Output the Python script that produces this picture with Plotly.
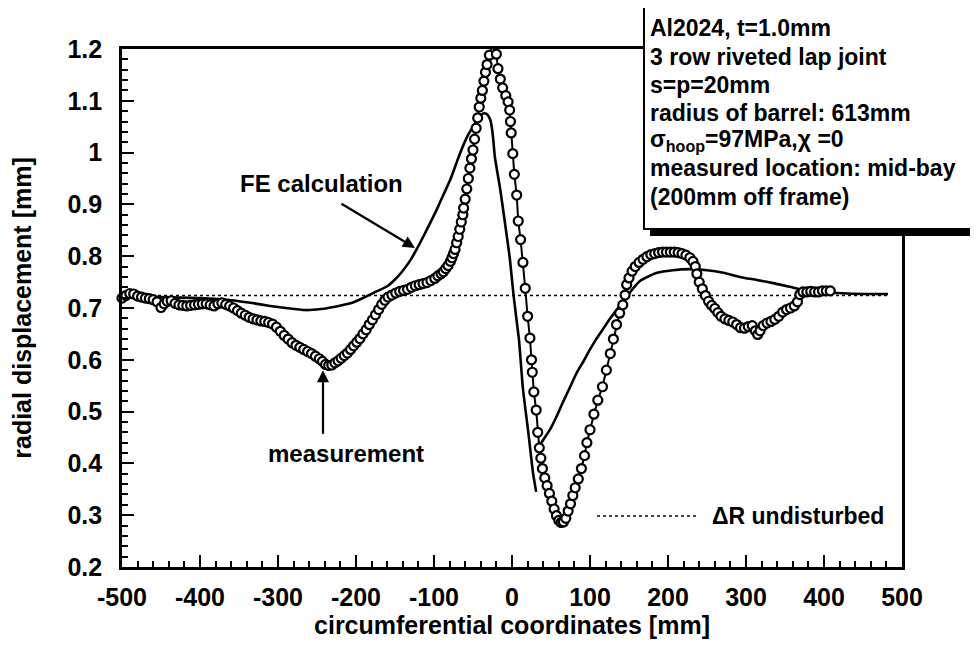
import plotly.graph_objects as go

# ---------------- data ----------------
meas_x = [-500, -495, -490, -485, -480, -475, -470, -465, -460, -455, -450, -446, -442, -437, -432,
          -427, -422, -417, -412, -407, -402, -397, -392, -387, -382, -377, -372, -367, -362, -357,
          -352, -347, -342, -337, -332, -327, -322, -317, -312, -307, -302, -297, -292, -287, -282,
          -277, -272, -267, -262, -257, -252, -247, -243, -239, -235, -231, -227, -223, -219, -215,
          -211, -207, -203, -199, -195, -191, -187, -183, -179, -175, -171, -167, -163, -159, -154,
          -149, -144, -139, -134, -129, -124, -119, -114, -109, -104, -99, -95, -91, -88, -85,
          -82, -79, -77, -75, -73, -71, -69, -67, -65, -63, -62, -60, -58, -56, -54,
          -52, -50, -48, -46, -44, -42, -40, -38, -36, -34, -32, -29, -25, -20, -18,
          -15, -12, -8, -5, -3, -2, -1, 1, 3, 6, 8, 11, 14, 17, 20,
          23, 25, 26, 28, 31, 33, 35, 37, 39, 42, 45, 48, 51, 54, 57,
          60, 63, 66, 69, 72, 75, 78, 81, 85, 89, 93, 96, 100, 105, 110,
          116, 121, 126, 130, 134, 138, 142, 145, 147, 150, 154, 158, 163, 168, 173,
          178, 183, 188, 193, 198, 203, 208, 213, 218, 223, 228, 232, 235, 237, 240,
          244, 248, 252, 256, 260, 264, 268, 273, 278, 283, 288, 293, 298, 303, 308,
          312, 315, 318, 322, 327, 332, 337, 342, 347, 352, 357, 362, 366, 369, 373,
          378, 383, 388, 393, 398, 403, 408]
meas_y = [0.719, 0.724, 0.728, 0.727, 0.723, 0.721, 0.719, 0.718, 0.716, 0.712, 0.701, 0.708, 0.713, 0.714, 0.709,
          0.706, 0.705, 0.704, 0.705, 0.706, 0.707, 0.708, 0.708, 0.706, 0.704, 0.708, 0.710, 0.707, 0.704, 0.700,
          0.695, 0.690, 0.686, 0.682, 0.679, 0.677, 0.675, 0.674, 0.672, 0.669, 0.663, 0.655, 0.647, 0.640, 0.633,
          0.628, 0.624, 0.620, 0.616, 0.612, 0.607, 0.602, 0.597, 0.591, 0.589, 0.590, 0.594, 0.598, 0.603, 0.608,
          0.613, 0.620, 0.627, 0.634, 0.641, 0.650, 0.658, 0.668, 0.677, 0.687, 0.697, 0.707, 0.715, 0.721, 0.725,
          0.729, 0.732, 0.734, 0.736, 0.740, 0.743, 0.745, 0.747, 0.749, 0.753, 0.757, 0.762, 0.766, 0.770, 0.776,
          0.782, 0.790, 0.797, 0.805, 0.813, 0.826, 0.838, 0.852, 0.866, 0.880, 0.893, 0.910, 0.930, 0.950, 0.970,
          0.988, 1.005, 1.026, 1.047, 1.067, 1.088, 1.105, 1.120, 1.138, 1.155, 1.170, 1.188, 1.207, 1.190, 1.162,
          1.142, 1.125, 1.110, 1.098, 1.082, 1.060, 1.038, 0.998, 0.958, 0.918, 0.868, 0.832, 0.788, 0.738, 0.684,
          0.642, 0.600, 0.576, 0.538, 0.503, 0.460, 0.430, 0.410, 0.390, 0.372, 0.357, 0.342, 0.327, 0.312, 0.299,
          0.290, 0.286, 0.287, 0.294, 0.308, 0.322, 0.338, 0.353, 0.370, 0.390, 0.415, 0.440, 0.465, 0.495, 0.522,
          0.548, 0.580, 0.612, 0.640, 0.668, 0.690, 0.706, 0.725, 0.745, 0.758, 0.771, 0.780, 0.788, 0.794, 0.799,
          0.803, 0.805, 0.807, 0.808, 0.808, 0.808, 0.808, 0.807, 0.805, 0.802, 0.797, 0.790, 0.780, 0.766, 0.750,
          0.737, 0.724, 0.713, 0.705, 0.699, 0.691, 0.684, 0.679, 0.676, 0.673, 0.668, 0.662, 0.661, 0.664, 0.666,
          0.656, 0.649, 0.656, 0.666, 0.671, 0.674, 0.678, 0.684, 0.692, 0.697, 0.700, 0.704, 0.712, 0.726, 0.731,
          0.731, 0.732, 0.731, 0.731, 0.733, 0.733, 0.733]

fe_left_x = [-500, -450, -400, -360, -335, -310, -290, -265, -245, -225, -205, -190, -175, -160, -150,
             -140, -130, -122, -113, -105, -98, -92, -85, -78, -70, -63, -56, -50, -45, -40,
             -36, -32, -28, -26, -24, -22, -15, -9, -3, 2, 6, 9, 14, 21, 27, 31]
fe_left_y = [0.722, 0.721, 0.719, 0.715, 0.710, 0.704, 0.700, 0.696, 0.698, 0.703, 0.710, 0.720, 0.731, 0.742, 0.755,
             0.772, 0.793, 0.814, 0.840, 0.864, 0.885, 0.905, 0.928, 0.952, 0.985, 1.012, 1.035, 1.050, 1.062, 1.072,
             1.076, 1.074, 1.064, 1.050, 1.025, 0.992, 0.928, 0.864, 0.798, 0.725, 0.675, 0.638, 0.545, 0.459, 0.381, 0.345]

fe_right_x = [36, 42, 49, 57, 65, 74, 83, 92, 100, 108, 117, 126, 135, 147, 164,
              186, 206, 228, 250, 271, 292, 314, 335, 356, 373, 400, 430, 460, 482]
fe_right_y = [0.436, 0.450, 0.466, 0.490, 0.517, 0.546, 0.575, 0.598, 0.620, 0.640, 0.660, 0.680, 0.698, 0.722, 0.752,
              0.768, 0.773, 0.775, 0.773, 0.768, 0.760, 0.754, 0.748, 0.741, 0.735, 0.731, 0.728, 0.727, 0.727]

undisturbed_x = [-500, 482]
undisturbed_y = [0.724, 0.724]

x_tick_vals = [-500, -400, -300, -200, -100, 0, 100, 200, 300, 400, 500]
x_tick_text = ["-500", "-400", "-300", "-200", "-100", "0", "100", "200", "300", "400", "500"]
y_tick_vals = [0.2, 0.3, 0.4, 0.5, 0.6, 0.7, 0.8, 0.9, 1.0, 1.1, 1.2]
y_tick_text = ["0.2", "0.3", "0.4", "0.5", "0.6", "0.7", "0.8", "0.9", "1", "1.1", "1.2"]

info_lines = ["Al2024, t=1.0mm",
              "3 row riveted lap joint",
              "s=p=20mm",
              "radius of barrel: 613mm",
              "σ<sub>hoop</sub>=97MPa,χ =0",
              "measured location: mid-bay",
              "(200mm off frame)"]

FONT = "Liberation Sans, Arial, Helvetica, sans-serif"

fig = go.Figure()

fig.add_trace(go.Scatter(x=undisturbed_x, y=undisturbed_y, mode="lines",
                         line=dict(color="black", width=1.6, dash="dot"),
                         showlegend=False, hoverinfo="skip"))
fig.add_trace(go.Scatter(x=fe_left_x, y=fe_left_y, mode="lines",
                         line=dict(color="black", width=2.6, shape="spline", smoothing=0.6),
                         showlegend=False))
fig.add_trace(go.Scatter(x=fe_right_x, y=fe_right_y, mode="lines",
                         line=dict(color="black", width=2.6, shape="spline", smoothing=0.6),
                         showlegend=False))
fig.add_trace(go.Scatter(x=meas_x, y=meas_y, mode="lines+markers",
                         line=dict(color="black", width=2),
                         marker=dict(symbol="circle", size=9, color="white",
                                     line=dict(color="black", width=2.2)),
                         cliponaxis=False, showlegend=False))

shapes = []
# info box shadow and box
shapes.append(dict(type="rect", xref="paper", yref="paper", x0=0.677, x1=1.10, y0=0.639, y1=1.071,
                   fillcolor="black", line=dict(width=0), layer="above"))
shapes.append(dict(type="rect", xref="paper", yref="paper", x0=0.6692, x1=1.0936, y0=0.6525, y1=1.0811,
                   fillcolor="white", line=dict(color="black", width=2), layer="above"))
# legend sample for ΔR undisturbed
shapes.append(dict(type="line", xref="paper", yref="paper", x0=0.609, x1=0.737, y0=0.0985, y1=0.0985,
                   line=dict(color="black", width=1.6, dash="dot"), layer="above"))

annotations = []
line_y = [1.0405, 0.9846, 0.9305, 0.8764, 0.8243, 0.7703, 0.7143]
for txt, yy in zip(info_lines, line_y):
    annotations.append(dict(text=txt, xref="paper", yref="paper", x=0.674, y=yy,
                            xanchor="left", yanchor="middle", showarrow=False,
                            font=dict(family=FONT, size=23, color="black", weight="bold")))

annotations.append(dict(text="ΔR undisturbed", xref="paper", yref="paper", x=0.754, y=0.0985,
                        xanchor="left", yanchor="middle", showarrow=False,
                        font=dict(family=FONT, size=23, color="black", weight="bold")))

annotations.append(dict(text="FE calculation", xref="paper", yref="paper", x=0.256, y=0.741,
                        xanchor="center", yanchor="middle", showarrow=False,
                        font=dict(family=FONT, size=24, color="black", weight="bold")))
annotations.append(dict(text="", x=-124.4, y=0.816, xref="x", yref="y", ax=-75, ay=-45,
                        showarrow=True, arrowhead=2, arrowsize=1.1, arrowwidth=2.2, arrowcolor="black"))

annotations.append(dict(text="measurement", xref="paper", yref="paper", x=0.287, y=0.220,
                        xanchor="center", yanchor="middle", showarrow=False,
                        font=dict(family=FONT, size=24, color="black", weight="bold")))
annotations.append(dict(text="", x=-242.3, y=0.580, xref="x", yref="y", ax=0, ay=65,
                        showarrow=True, arrowhead=2, arrowsize=1.1, arrowwidth=2.2, arrowcolor="black"))

axis_font = dict(family=FONT, size=25, color="black", weight="bold")
title_font = dict(family=FONT, size=25, color="black", weight="bold")

# the page body has an 8px margin, so the figure is sized and offset to match the 978x648 view
fig.update_layout(
    width=970, height=640,
    margin=dict(l=114, r=76, t=41, b=81),
    paper_bgcolor="white", plot_bgcolor="white",
    shapes=shapes, annotations=annotations,
    xaxis=dict(range=[-500, 500], tickmode="array", tickvals=x_tick_vals, ticktext=x_tick_text,
               ticks="inside", ticklen=12, tickwidth=2, tickcolor="black",
               minor=dict(tickmode="linear", tick0=-500, dtick=20, ticks="inside", ticklen=6,
                          tickwidth=2, tickcolor="black"),
               showline=True, linewidth=2.6, linecolor="black", mirror=True,
               showgrid=False, zeroline=False, tickfont=axis_font, ticklabelstandoff=6,
               title=dict(text="circumferential coordinates [mm]", font=title_font, standoff=6)),
    yaxis=dict(range=[0.2, 1.2], tickmode="array", tickvals=y_tick_vals, ticktext=y_tick_text,
               ticks="inside", ticklen=12, tickwidth=2, tickcolor="black",
               minor=dict(tickmode="linear", tick0=0.2, dtick=0.02, ticks="inside", ticklen=6,
                          tickwidth=2, tickcolor="black"),
               showline=True, linewidth=2.6, linecolor="black", mirror=True,
               showgrid=False, zeroline=False, tickfont=axis_font, ticklabelstandoff=12,
               title=dict(text="radial displacement [mm]", font=title_font, standoff=30)),
)

fig.write_html("out.html")
